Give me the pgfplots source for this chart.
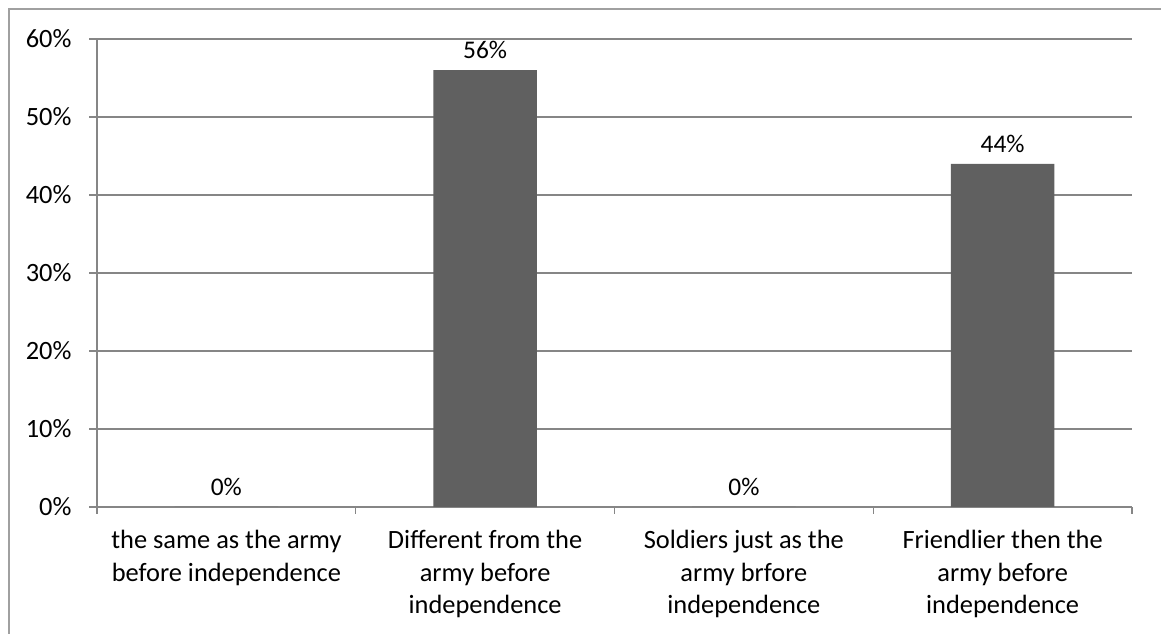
\documentclass[border=0pt]{standalone}
\usepackage{fontspec}
\setmainfont{Carlito}
\usepackage{pgfplots}
\pgfplotsset{compat=1.18}
\definecolor{gridc}{HTML}{868686}
\definecolor{barc}{HTML}{606060}
\definecolor{framec}{HTML}{A0A0A0}
\begin{document}
\begin{tikzpicture}[x=1bp,y=1bp]
\useasboundingbox (0,0) rectangle (1161,634);
\draw[framec, line width=1.5bp] (9,0) -- (9,625) -- (1161,625);
\begin{axis}[
  at={(97bp,127bp)}, anchor=south west,
  scale only axis, width=1035bp, height=468bp,
  xmin=-0.5, xmax=3.5, ymin=0, ymax=60,
  axis x line*=bottom, axis y line*=left,
  axis line style={gridc, line width=1.3bp, -},
  xtick={0,1,2,3},
  xticklabels={{the same as the army\\before independence},
               {Different from the\\army before\\independence},
               {Soldiers just as the\\army brfore\\independence},
               {Friendlier then the\\army before\\independence}},
  xticklabel style={align=center, font=\fontsize{26.5}{32.5}\selectfont, yshift=-12bp},
  major x tick style={draw=none},
  minor xtick={-0.5,0.5,1.5,2.5,3.5},
  minor tick length=7bp,
  minor x tick style={gridc, line width=1.3bp},
  ytick={0,10,...,60},
  yticklabel={\pgfmathprintnumber{\tick}\%},
  yticklabel style={font=\fontsize{26.5}{30}\selectfont, xshift=-14bp},
  /pgf/number format/assume math mode=true,
  major tick length=8bp,
  tick align=outside,
  major y tick style={gridc, line width=1.3bp},
  ymajorgrids, grid style={gridc, line width=1.3bp},
  ybar, bar width=0.4,
  nodes near coords={\pgfmathprintnumber{\pgfplotspointmeta}\%},
  nodes near coords style={font=\fontsize{25.5}{30}\selectfont, text=black, yshift=8bp},
  point meta=y,
]
\addplot[fill=barc, draw=none] coordinates {(0,0) (1,56) (2,0) (3,44)};
\end{axis}
\end{tikzpicture}
\end{document}
